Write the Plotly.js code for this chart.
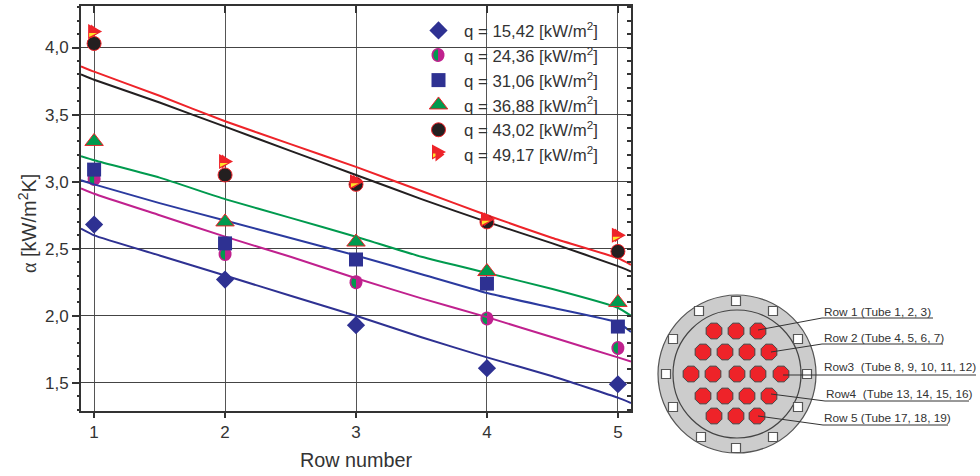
<!DOCTYPE html>
<html><head><meta charset="utf-8">
<script src="https://cdn.plot.ly/plotly-3.0.1.min.js"></script>
<style>html,body{margin:0;padding:0;background:#fff}#c{width:980px;height:476px}</style>
</head><body><div id="c"></div>
<script>
// ---- measured series
const rows = [1, 2, 3, 4, 5];
const seriesNames = ['15,42', '24,36', '31,06', '36,88', '43,02', '49,17'];
const q1542 = [2.68, 2.27, 1.93, 1.61, 1.49];
const q2436 = [3.02, 2.46, 2.25, 1.98, 1.76];
const q3106 = [3.09, 2.54, 2.42, 2.24, 1.92];
const q3688 = [3.30, 2.70, 2.55, 2.33, 2.10];
const q4302 = [4.03, 3.05, 2.98, 2.70, 2.48];
const q4917 = [4.12, 3.15, 3.00, 2.72, 2.60];
// ---- correlation curves
const curveX = [0.9, 1, 1.5, 2, 2.5, 3, 3.5, 4, 4.5, 5, 5.1];
const curve1542 = [2.65, 2.60, 2.45, 2.30, 2.15, 2.00, 1.84, 1.69, 1.55, 1.39, 1.35];
const curve2436 = [2.95, 2.91, 2.75, 2.59, 2.44, 2.28, 2.13, 1.99, 1.84, 1.69, 1.66];
const curve3106 = [3.01, 2.98, 2.84, 2.71, 2.58, 2.45, 2.31, 2.17, 2.06, 1.95, 1.88];
const curve3688 = [3.19, 3.16, 3.03, 2.87, 2.73, 2.59, 2.44, 2.32, 2.20, 2.06, 2.00];
const curve4302 = [3.80, 3.76, 3.59, 3.41, 3.23, 3.05, 2.87, 2.70, 2.54, 2.37, 2.33];
const curve4917 = [3.86, 3.82, 3.64, 3.45, 3.28, 3.11, 2.93, 2.75, 2.58, 2.43, 2.38];
// ---- axis ticks
const yMajor = [1.5, 2.0, 2.5, 3.0, 3.5, 4.0];
const yMinor = [1.3,1.4,1.6,1.7,1.8,1.9,2.1,2.2,2.3,2.4,2.6,2.7,2.8,2.9,3.1,3.2,3.3,3.4,3.6,3.7,3.8,3.9,4.1,4.2,4.3];
// ---- tube bundle schematic (its own coordinate frame)
const tubeX = [714,736,758, 703,725,747,769, 691,713,737,758,781, 703,725,747,769, 714,736,757];
const tubeY = [331,331,331, 352,352,352,352, 374,374,374,374,374, 396,396,396,396, 416,416,416];
const boltX = [736,773,798,807,798,773,736,701,673,666,673,699];
const boltY = [301,311,339,374,407,437,448,437,407,374,339,311];
const rowLabels = ['Row 1 (Tube 1, 2, 3)','Row 2 (Tube 4, 5, 6, 7)','Row3  (Tube 8, 9, 10, 11, 12)','Row4  (Tube 13, 14, 15, 16)','Row 5 (Tube 17, 18, 19)'];
const labelX = [822,822,822,824,822];
const labelY = [312,338,367,394,418];
const leaderX = [[758,822,933],[771,822,943],[783,976],[771,825,969],[758,823,948]];
const leaderY = [[330,318,318],[352,344,344],[375,375],[394,401,401],[416,425,425]];

const NAVY='#2e3192', MAG='#c0218e', GREEN='#009a4e', RED='#ee2329', BLACK='#231f20', YEL='#ffe32a', INK='#333333';
const W=980,H=476,L=81,R=631,T=6,B=411;
const SX0=647,SX1=980,SY0=276,SY1=476;
const YR=[1.2905,4.3095], XR=[0.9,5.1];

const traces=[];
const curves=[[curve4917,RED],[curve4302,BLACK],[curve3688,GREEN],[curve3106,'#2b3a9f'],[curve2436,MAG],[curve1542,NAVY]];
curves.forEach(c=>traces.push({x:curveX,y:c[0],mode:'lines',line:{color:c[1],width:2,shape:'spline',smoothing:0.4},showlegend:false,hoverinfo:'skip'}));
const nm=s=>'q = '+s+' [kW/m<sup>2</sup>]';
const mk=(y,i,marker)=>({x:rows,y:y,mode:'markers',name:nm(seriesNames[i]),marker:marker});
traces.push(mk(q1542,0,{symbol:'diamond',size:14,color:NAVY}));
traces.push(mk(q2436,1,{symbol:'circle',size:14,color:'rgba(0,0,0,0)'}));
traces.push(mk(q3106,2,{symbol:'square',size:14,color:NAVY}));
traces.push(mk(q3688,3,{symbol:'triangle-up',size:16,color:GREEN,line:{color:RED,width:1}}));
traces.push(mk(q4302,4,{symbol:'circle',size:14,color:BLACK,line:{color:RED,width:1}}));
traces.push(mk(q4917,5,{symbol:'triangle-right',size:12,color:RED}));

// schematic
traces.push({x:tubeX,y:tubeY,xaxis:'x3',yaxis:'y3',mode:'markers',showlegend:false,hoverinfo:'skip',
  marker:{symbol:'octagon',size:17,color:RED,line:{color:'#444',width:1}}});
traces.push({x:boltX,y:boltY,xaxis:'x3',yaxis:'y3',mode:'markers',showlegend:false,hoverinfo:'skip',
  marker:{symbol:'square',size:9,color:'#fff',line:{color:'#555',width:1.2}}});
leaderX.forEach((lx,i)=>traces.push({x:lx,y:leaderY[i],xaxis:'x3',yaxis:'y3',mode:'lines',showlegend:false,hoverinfo:'skip',line:{color:'#333',width:1}}));

// glyph outlines for the two-colour markers (pixels around the anchor point)
const arc=(rx,ry,a0,a1)=>{let s='';for(let k=0;k<=24;k++){const a=(a0+(a1-a0)*k/24)*Math.PI/180;s+=(k?'L':'M')+(rx*Math.cos(a)).toFixed(2)+','+(ry*Math.sin(a)).toFixed(2)+' ';}return s+'Z';};
const fullGlyph=arc(6.5,7,0,360);
const leftGlyph=arc(4.6,5.6,90,270);
const triGlyph='M-6,7.5 L8,0 L-6,-7.5 Z';
const yellowGlyph='M-5,-1.5 L3,-1.5 L-5,-5.5 Z';
const glyph=(xr,yr,x,y,path,color,layer)=>({type:'path',xref:xr,yref:yr,xsizemode:'pixel',ysizemode:'pixel',xanchor:x,yanchor:y,path:path,fillcolor:color,line:{width:0},layer:layer});
const shapes=[];
rows.forEach((r,i)=>{
  shapes.push(glyph('x','y',r,q2436[i],fullGlyph,MAG,'between'));
  shapes.push(glyph('x','y',r,q2436[i],leftGlyph,GREEN,'between'));
  shapes.push(glyph('x','y',r,q4917[i],triGlyph,RED,'above'));
  shapes.push(glyph('x','y',r,q4917[i],yellowGlyph,YEL,'above'));
});
// legend key overlays
const kx=438/W, ky=i=>1-i/H;
shapes.push(glyph('paper','paper',kx,ky(55),fullGlyph,MAG,'above'));
shapes.push(glyph('paper','paper',kx,ky(55),leftGlyph,GREEN,'above'));
shapes.push(glyph('paper','paper',kx,ky(152),triGlyph,RED,'above'));
shapes.push(glyph('paper','paper',kx,ky(152),yellowGlyph,YEL,'above'));
// schematic discs
const disc=(cx,cy,r,fill,lc)=>({type:'circle',xref:'x3',yref:'y3',x0:cx-r,x1:cx+r,y0:cy-r,y1:cy+r,fillcolor:fill,line:{color:lc,width:1.2},layer:'below'});
shapes.push(disc(737,374,79,'#cccccc','#555555'));
shapes.push(disc(737,374,64,'#cccccc','#444444'));

const annotations=rowLabels.map((t,i)=>({xref:'x3',yref:'y3',x:labelX[i],y:labelY[i],text:t,showarrow:false,xanchor:'left',yanchor:'middle',font:{family:'Liberation Sans',size:11.8,color:INK}}));
annotations.push({xref:'paper',yref:'paper',x:27/W,y:1-224/H,textangle:-90,showarrow:false,xanchor:'center',yanchor:'middle',
  text:'<span style="font-family:Liberation Serif">α</span> [kW/m<sup>2</sup>K]',font:{size:20,color:INK}});

const layout={
  width:W,height:H,margin:{l:0,r:0,t:0,b:0,pad:0},paper_bgcolor:'#fff',plot_bgcolor:'rgba(0,0,0,0)',
  separators:', ',font:{family:'Liberation Sans',color:INK},hovermode:false,
  showlegend:true,
  legend:{x:413/W,y:1-13/H,xanchor:'left',yanchor:'top',bgcolor:'rgba(0,0,0,0)',borderwidth:0,itemwidth:41,font:{size:16.8,color:INK},itemclick:false,itemdoubleclick:false},
  xaxis:{domain:[L/W,R/W],range:XR,tickvals:rows,ticks:'outside',ticklen:5,tickwidth:2,tickcolor:INK,
    showline:true,linecolor:INK,linewidth:2,showgrid:true,gridcolor:'#555',gridwidth:1,zeroline:false,tickfont:{size:17,color:INK},
    title:{text:'Row number',font:{size:19.8,color:INK},standoff:12},anchor:'y',automargin:false},
  yaxis:{domain:[1-B/H,1-T/H],range:YR,tickvals:yMajor,tickformat:'.1f',ticks:'outside',ticklen:7,tickwidth:2,tickcolor:INK,
    showline:true,linecolor:INK,linewidth:2,showgrid:true,gridcolor:'#444',gridwidth:1,zeroline:false,tickfont:{size:17,color:INK},anchor:'x',automargin:false},
  xaxis2:{overlaying:'x',side:'top',anchor:'y',range:XR,tickvals:rows,ticks:'inside',ticklen:7,tickwidth:2,tickcolor:INK,showline:true,linecolor:INK,linewidth:2,showgrid:false,zeroline:false,showticklabels:false},
  yaxis2:{overlaying:'y',side:'right',anchor:'x',range:YR,tickvals:yMajor.concat(yMinor),ticks:'inside',ticklen:4,tickwidth:2,tickcolor:INK,showline:true,linecolor:INK,linewidth:2,showgrid:false,zeroline:false,showticklabels:false},
  yaxis4:{overlaying:'y',side:'left',anchor:'x',range:YR,tickvals:yMinor,ticks:'outside',ticklen:3,tickwidth:2,tickcolor:INK,showline:false,showgrid:false,zeroline:false,showticklabels:false},
  xaxis3:{domain:[SX0/W,SX1/W],range:[SX0,SX1],visible:false,anchor:'y3',fixedrange:true},
  yaxis3:{domain:[1-SY1/H,1-SY0/H],range:[SY1,SY0],visible:false,anchor:'x3',fixedrange:true},
  shapes:shapes,annotations:annotations
};
traces.push({x:[1],y:[2],xaxis:'x2',yaxis:'y2',mode:'markers',marker:{opacity:0},showlegend:false,hoverinfo:'skip'});
traces.push({x:[1],y:[2],xaxis:'x',yaxis:'y4',mode:'markers',marker:{opacity:0},showlegend:false,hoverinfo:'skip'});
Plotly.newPlot('c',traces,layout,{displayModeBar:false,staticPlot:true});
</script></body></html>
